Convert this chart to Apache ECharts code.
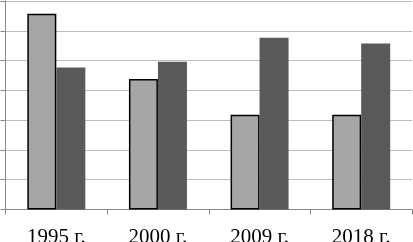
<!DOCTYPE html>
<html><head><meta charset="utf-8">
<script src="https://cdn.jsdelivr.net/npm/echarts@6/dist/echarts.min.js"></script>
<style>html,body{margin:0;padding:0;background:#fff}#c{width:413px;height:242px}</style>
</head><body><div id="c"></div>
<script>
const categories = ['1995 г.', '2000 г.', '2009 г.', '2018 г.'];
const seriesLight = [6.57, 4.38, 3.18, 3.18];
const seriesDark = [4.77, 4.96, 5.77, 5.57];
const yTicks = [0, 1, 2, 3, 4, 5, 6, 7];

const chart = echarts.init(document.getElementById('c'), null, {renderer: 'canvas'});
chart.setOption({
  animation: false,
  grid: {left: 5.5, top: 1, right: 1, bottom: 32.5, containLabel: false, outerBoundsMode: 'none'},
  xAxis: {
    type: 'category', data: categories,
    axisLine: {lineStyle: {color: '#888', width: 1}},
    axisTick: {show: true, length: 5, lineStyle: {color: '#888'}},
    axisLabel: {color: '#000', fontFamily: 'Liberation Serif', fontSize: 21, margin: 17}
  },
  yAxis: {
    type: 'value', min: yTicks[0], max: yTicks[yTicks.length - 1], interval: 1,
    axisLine: {show: true, lineStyle: {color: '#888', width: 1}},
    axisTick: {show: true, length: 5, lineStyle: {color: '#888'}},
    axisLabel: {show: false},
    splitLine: {lineStyle: {color: '#bdbdbd', width: 1}}
  },
  series: [
    {type: 'bar', data: seriesLight, barWidth: 29, barGap: '0%',
     itemStyle: {color: '#a6a6a6', borderColor: '#000', borderWidth: 1.5}},
    {type: 'bar', data: seriesDark, barWidth: 29,
     itemStyle: {color: '#595959'}}
  ]
});
</script></body></html>
